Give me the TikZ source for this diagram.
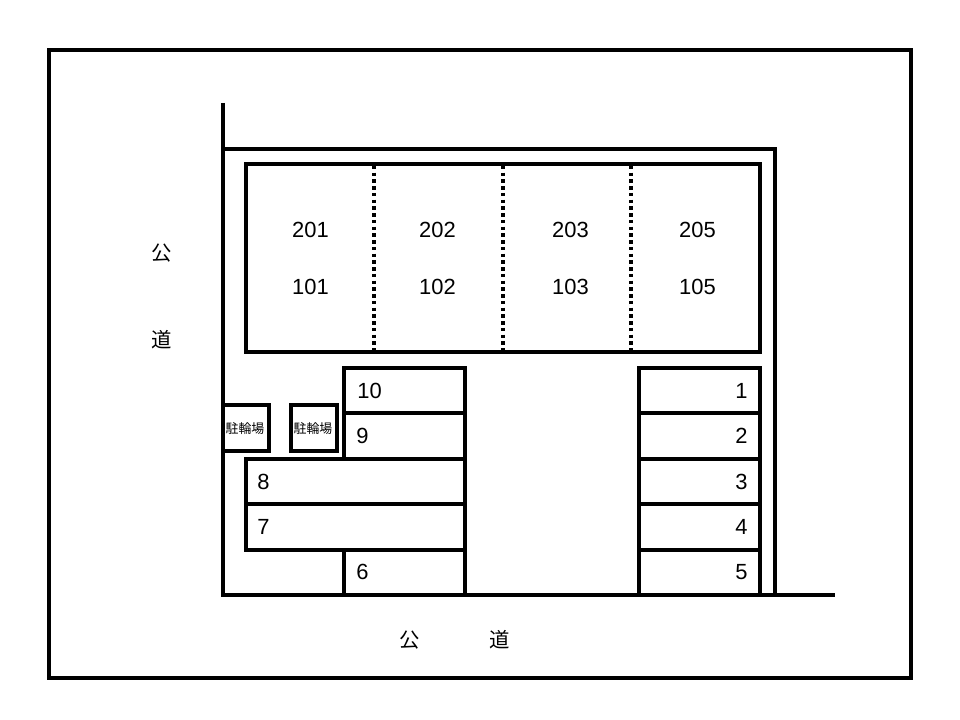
\documentclass[tikz,border=0pt]{standalone}
\usepackage{fontspec}
\setmainfont{Liberation Sans}
\newfontfamily\cjk{Noto Sans CJK JP}
\tikzset{
  wall/.style={line width=2.4pt},
  lot/.style={line width=2.4pt},
  party/.style={line width=2.4pt, dash pattern=on 2.4pt off 2.4pt},
  num/.style={font=\fontsize{15.6}{18}\selectfont, inner sep=0pt},
  road/.style={font=\cjk\fontsize{14.5}{16}\selectfont, inner sep=0pt},
  bike/.style={font=\cjk\fontsize{9.2}{10}\selectfont, inner sep=0pt}
}
\begin{document}
\begin{tikzpicture}[x=0.025cm, y=-0.025cm]
\useasboundingbox (0,0) rectangle (960,720);
\draw [wall](49,50) rectangle (911,678);
% site boundary
\draw [wall](223,103) -- (223,595) -- (835,595);
\draw [wall](223,149) -- (775,149) -- (775,595);
% building
\draw [lot](246,164) rectangle (760,352);
\draw [party](374,166) -- (374,350);
\draw [party](503,166) -- (503,350);
\draw [party](631,166) -- (631,350);
\node [num] at (310.5,230) {201};
\node [num] at (310.5,287) {101};
\node [num] at (437.5,230) {202};
\node [num] at (437.5,287) {102};
\node [num] at (570.5,230) {203};
\node [num] at (570.5,287) {103};
\node [num] at (697.5,230) {205};
\node [num] at (697.5,287) {105};
% parking right
\draw [lot](639,368) rectangle (760,595);
\foreach \y in {413,459,504,550}
  \draw [lot](639,\y) -- (760,\y);
\node [num] at (741.5,391) {1};
\node [num] at (741.5,436) {2};
\node [num] at (741.5,482) {3};
\node [num] at (741.5,527) {4};
\node [num] at (741.5,572) {5};
% parking left
\draw [lot](344,459) -- (344,368) -- (465,368) -- (465,595) -- (344,595) -- (344,550);
\draw [lot](344,413) -- (465,413);
\draw [lot](246,459) rectangle (465,504);
\draw [lot](246,504) rectangle (465,550);
\node [num] at (369.5,391) {10};
\node [num] at (362.5,436) {9};
\node [num] at (263.5,482) {8};
\node [num] at (263.5,527) {7};
\node [num] at (362.5,572) {6};
% bicycles
\draw [lot](223,405) -- (269,405) -- (269,451) -- (223,451);
\draw [lot](291,405) rectangle (337,451);
\node [bike] at (245,429) {駐輪場};
\node [bike] at (313,429) {駐輪場};
% roads
\node [road] at (162,253) {公};
\node [road] at (162,340) {道};
\node [road] at (410,640) {公};
\node [road] at (500,640) {道};
\end{tikzpicture}
\end{document}
